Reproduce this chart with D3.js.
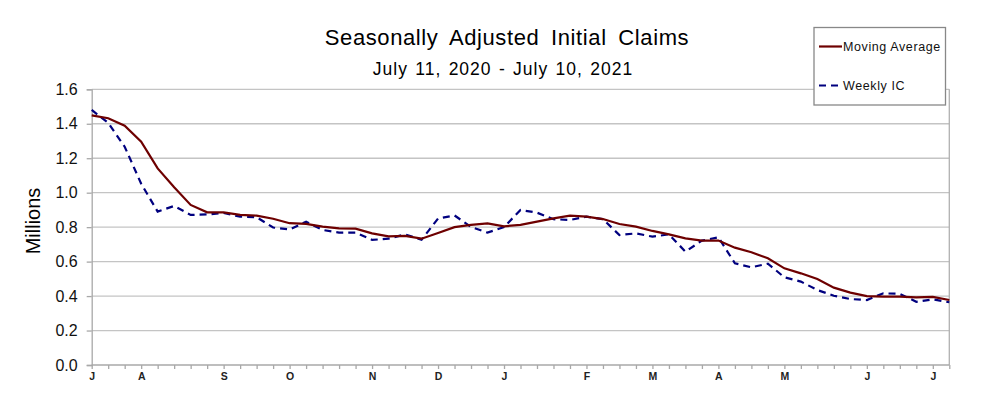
<!DOCTYPE html>
<html>
<head>
<meta charset="utf-8">
<script src="https://cdn.jsdelivr.net/npm/d3@7"></script>
<style>
  body { margin: 0; background: #fff; }
  svg { font-family: "Liberation Sans", Arial, sans-serif; }
</style>
</head>
<body>
<svg id="chart" width="986" height="396"></svg>
<script>
// weekly values, millions, week ending July 11 2020 .. July 10 2021
var movingAverage = [1.449, 1.432, 1.389, 1.296, 1.141, 1.031, 0.929, 0.886, 0.886, 0.871,
    0.867, 0.849, 0.823, 0.819, 0.803, 0.793, 0.791, 0.764, 0.747, 0.749,
    0.733, 0.766, 0.800, 0.813, 0.822, 0.805, 0.813, 0.832, 0.851, 0.867,
    0.861, 0.847, 0.818, 0.803, 0.778, 0.758, 0.735, 0.722, 0.722, 0.681,
    0.654, 0.619, 0.561, 0.532, 0.499, 0.449, 0.420, 0.400, 0.397, 0.397,
    0.393, 0.395, 0.377];
var weeklyIC = [1.480, 1.405, 1.267, 1.052, 0.890, 0.923, 0.871, 0.874, 0.882, 0.861,
    0.858, 0.798, 0.787, 0.831, 0.784, 0.768, 0.768, 0.726, 0.733, 0.758,
    0.727, 0.850, 0.868, 0.801, 0.768, 0.800, 0.900, 0.884, 0.846, 0.842,
    0.861, 0.846, 0.754, 0.764, 0.745, 0.758, 0.658, 0.722, 0.741, 0.590,
    0.567, 0.588, 0.509, 0.484, 0.435, 0.402, 0.383, 0.377, 0.416, 0.413,
    0.367, 0.381, 0.364];
var monthLabels = ["J", "A", "S", "O", "N", "D", "J", "F", "M", "A", "M", "J", "J"];
var monthWeeks = [0, 3, 8, 12, 17, 21, 25, 30, 34, 38, 42, 47, 51];
var yTicks = [0, 0.2, 0.4, 0.6, 0.8, 1.0, 1.2, 1.4, 1.6];

var svg = d3.select("#chart");
var plotLeft = 91.7, plotRight = 949.3, plotTop = 89.3, plotBottom = 365;

var x = d3.scaleLinear().domain([0, movingAverage.length - 1]).range([plotLeft, plotRight]);
var y = d3.scaleLinear().domain([0, 1.6]).range([plotBottom, plotTop]);

// grid
svg.append("g")
    .selectAll("line")
    .data(yTicks.slice(1))
    .enter().append("line")
    .attr("x1", plotLeft).attr("x2", plotRight)
    .attr("y1", function (d) { return y(d); })
    .attr("y2", function (d) { return y(d); })
    .attr("stroke", "#c4c4c4")
    .attr("stroke-width", 1.3);

// right border
svg.append("line")
    .attr("x1", plotRight).attr("x2", plotRight)
    .attr("y1", plotTop).attr("y2", plotBottom)
    .attr("stroke", "#b0b0b0").attr("stroke-width", 1.3);

var yAxis = svg.append("g")
    .attr("transform", "translate(" + plotLeft + ",0)")
    .call(d3.axisLeft(y).tickValues(yTicks).tickFormat(d3.format(".1f")).tickSize(5).tickPadding(9));
yAxis.selectAll("text").attr("font-size", 16).attr("fill", "#111").attr("font-family", "Liberation Sans, Arial");
yAxis.selectAll("line, path").attr("stroke", "#a8a8a8").attr("stroke-width", 1.3);

var xAxis = svg.append("g")
    .attr("transform", "translate(0," + plotBottom + ")")
    .call(d3.axisBottom(x)
        .tickValues(d3.range(movingAverage.length))
        .tickSize(4)
        .tickPadding(4)
        .tickFormat(function (d) {
            var k = monthWeeks.indexOf(d);
            return k >= 0 ? monthLabels[k] : "";
        }));
xAxis.select("path").attr("d", "M" + plotLeft + ",0H" + plotRight);
xAxis.selectAll("line, path").attr("stroke", "#a8a8a8").attr("stroke-width", 1.3);
xAxis.selectAll("text").attr("font-size", 10.5).attr("font-weight", "bold").attr("fill", "#222")
    .attr("font-family", "Liberation Sans, Arial");

var line = d3.line()
    .x(function (d, i) { return x(i); })
    .y(function (d) { return y(d); });

svg.append("path")
    .datum(weeklyIC)
    .attr("d", line)
    .attr("fill", "none")
    .attr("stroke", "#00007f")
    .attr("stroke-width", 2.2)
    .attr("stroke-dasharray", "7,5");

svg.append("path")
    .datum(movingAverage)
    .attr("d", line)
    .attr("fill", "none")
    .attr("stroke", "#6e0000")
    .attr("stroke-width", 2.2);

// titles
svg.append("text")
    .attr("x", 507).attr("y", 45)
    .attr("text-anchor", "middle")
    .attr("font-size", 22)
    .attr("letter-spacing", 0.6)
    .attr("word-spacing", 5)
    .attr("fill", "#000")
    .text("Seasonally Adjusted Initial Claims");
svg.append("text")
    .attr("x", 503).attr("y", 75)
    .attr("text-anchor", "middle")
    .attr("font-size", 17.5)
    .attr("letter-spacing", 1)
    .attr("word-spacing", 1.5)
    .attr("fill", "#000")
    .text("July 11, 2020 - July 10, 2021");
svg.append("text")
    .attr("transform", "translate(40,221) rotate(-90)")
    .attr("text-anchor", "middle")
    .attr("font-size", 20)
    .attr("fill", "#000")
    .text("Millions");

// legend
var legend = svg.append("g");
legend.append("rect")
    .attr("x", 814).attr("y", 27.5)
    .attr("width", 131.5).attr("height", 77.5)
    .attr("fill", "#fff")
    .attr("stroke", "#888").attr("stroke-width", 1.3);
var items = [
    { name: "Moving Average", color: "#6e0000", dash: null, y: 46.5 },
    { name: "Weekly IC", color: "#00007f", dash: "7,5", y: 85.5 }
];
items.forEach(function (d) {
    legend.append("line")
        .attr("x1", 819).attr("x2", 842)
        .attr("y1", d.y).attr("y2", d.y)
        .attr("stroke", d.color).attr("stroke-width", 2.2)
        .attr("stroke-dasharray", d.dash);
    legend.append("text")
        .attr("x", 843).attr("y", d.y + 4.5)
        .attr("font-size", 12.5)
        .attr("letter-spacing", 0.6)
        .attr("fill", "#111")
        .text(d.name);
});
</script>
</body>
</html>
